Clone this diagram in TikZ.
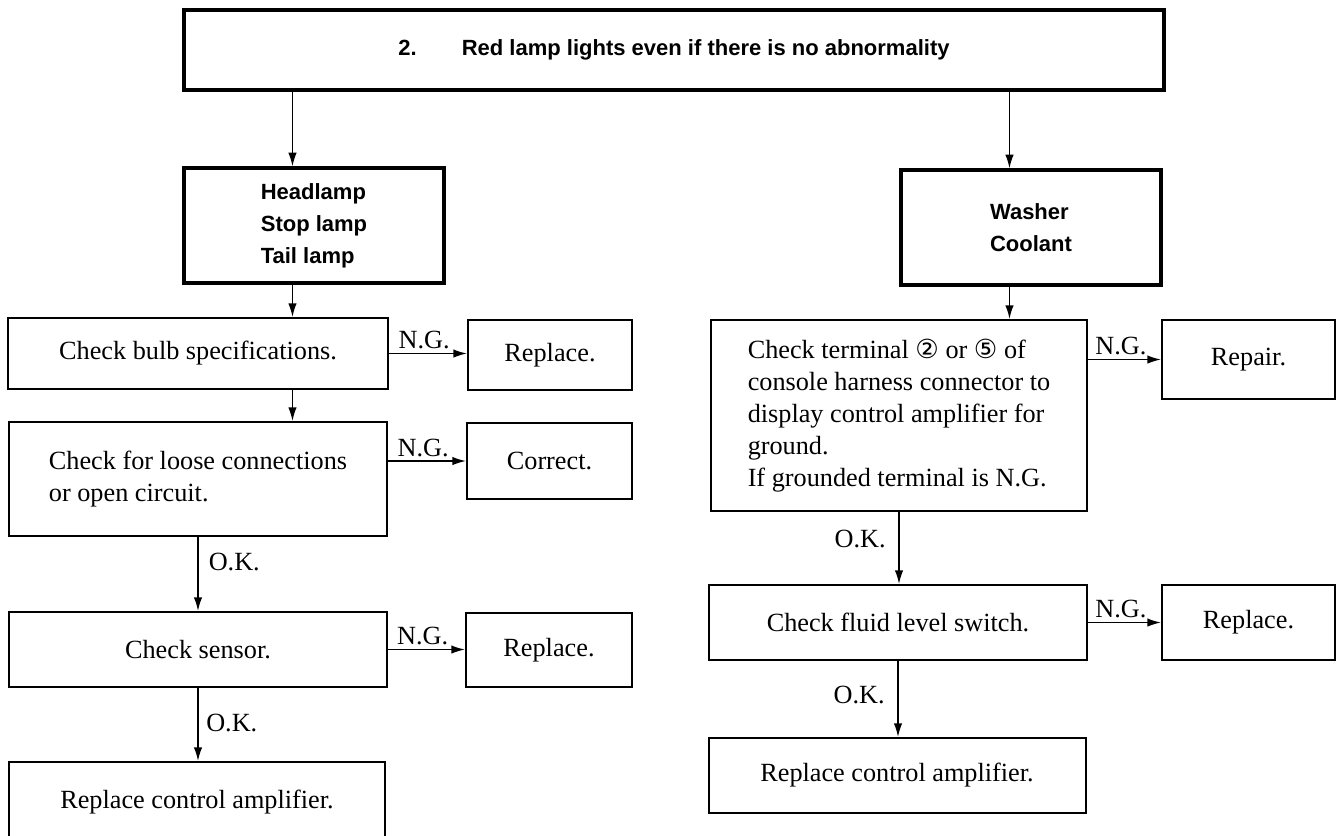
\documentclass[tikz,border=0pt]{standalone}
\usepackage{fontspec}
\setmainfont{Liberation Serif}
\newfontfamily\headfont{Liberation Sans}
\newfontfamily\symfont{DejaVu Sans}
\usetikzlibrary{arrows.meta}

\tikzset{
  box/.style={draw, line width=0.8pt, inner sep=0pt, align=center, font=\fontsize{10.5}{12.8}\selectfont},
  headbox/.style={box, line width=1.3pt, font=\headfont\bfseries\fontsize{8.8}{12.8}\selectfont},
  flow/.style={-{Latex[length=5.5pt,width=3.4pt]}, line width=0.6pt},
  lbl/.style={font=\fontsize{10.5}{12.8}\selectfont, inner sep=1pt}
}

\begin{document}
\begin{tikzpicture}[x=0.4pt, y=-0.4pt]
      \clip (0,0) rectangle (1340,835);

      \node[headbox, minimum width=392pt, minimum height=32pt] (title) at (674,50) {2.\hspace{18pt}Red lamp lights even if there is no abnormality};

      \node[headbox, align=left, minimum width=104pt, minimum height=46pt] (lamps) at (314,225.5) {Headlamp\\Stop lamp\\Tail lamp};
      \node[headbox, align=left, minimum width=104pt, minimum height=46pt] (fluids) at (1031,227.5) {Washer\\Coolant};

      \node[box, minimum width=152pt, minimum height=28.4pt] (bulb) at (198,353.5) {Check bulb specifications.};
      \node[box, minimum width=65.6pt, minimum height=28pt] (bulbrep) at (550,355) {Replace.};
      \node[box, align=left, minimum width=151.2pt, minimum height=45.6pt] (loose) at (198,479) {Check for loose connections\\or open circuit.};
      \node[box, minimum width=66pt, minimum height=30.4pt] (loosecor) at (549.5,461) {Correct.};
      \node[box, minimum width=151.2pt, minimum height=30pt] (sensor) at (198,649.5) {Check sensor.};
      \node[box, minimum width=66.4pt, minimum height=29.6pt] (sensorrep) at (549,650) {Replace.};
      \node[box, minimum width=150.4pt, minimum height=32pt] (ampL) at (197,802) {Replace control amplifier.};

      \node[box, align=left, minimum width=150.4pt, minimum height=76.4pt] (term) at (899,415.5) {Check terminal {\symfont ②} or {\symfont ⑤} of\\console harness connector to\\display control amplifier for\\ground.\\If grounded terminal is N.G.};
      \node[box, minimum width=69.2pt, minimum height=31.6pt] (termrep) at (1248.5,359.5) {Repair.};
      \node[box, minimum width=151.2pt, minimum height=30pt] (level) at (898,622.5) {Check fluid level switch.};
      \node[box, minimum width=69.2pt, minimum height=30pt] (levelrep) at (1248.5,622.5) {Replace.};
      \node[box, minimum width=150.8pt, minimum height=30pt] (ampR) at (897,775.5) {Replace control amplifier.};

      \draw[flow] (title.south -| lamps.110) -- (lamps.110);
      \draw[flow] (title.south -| fluids.110) -- (fluids.110);

      \draw[flow] (lamps.250) -- (lamps.250 |- bulb.north);
      \draw[flow] (bulb.east) -- node[lbl, above=0.5pt, pos=0.45] {N.G.} (bulb.east -| bulbrep.west);
      \draw[flow] (bulb.south -| lamps.250) -- (loose.north -| lamps.250);
      \draw[flow] (loose.east |- loosecor.west) -- node[lbl, above=0.5pt, pos=0.45] {N.G.} (loosecor.west);
      \draw[flow] (loose.south) -- node[lbl, right=3pt, pos=0.34] {O.K.} (sensor.north);
      \draw[flow] (sensor.east) -- node[lbl, above=0.5pt, pos=0.45] {N.G.} (sensor.east -| sensorrep.west);
      \draw[flow] (sensor.south) -- node[lbl, right=2pt, pos=0.48] {O.K.} (sensor.south |- ampL.north);

      \draw[flow] (fluids.250) -- (fluids.250 |- term.north);
      \draw[flow] (term.east |- termrep.west) -- node[lbl, above=0.5pt, pos=0.45] {N.G.} (termrep.west);
      \draw[flow] (term.south) -- node[lbl, left=4pt, pos=0.37] {O.K.} (term.south |- level.north);
      \draw[flow] (level.east) -- node[lbl, above=0.5pt, pos=0.45] {N.G.} (level.east -| levelrep.west);
      \draw[flow] (level.south) -- node[lbl, left=4pt, pos=0.45] {O.K.} (level.south |- ampR.north);
\end{tikzpicture}
\end{document}
